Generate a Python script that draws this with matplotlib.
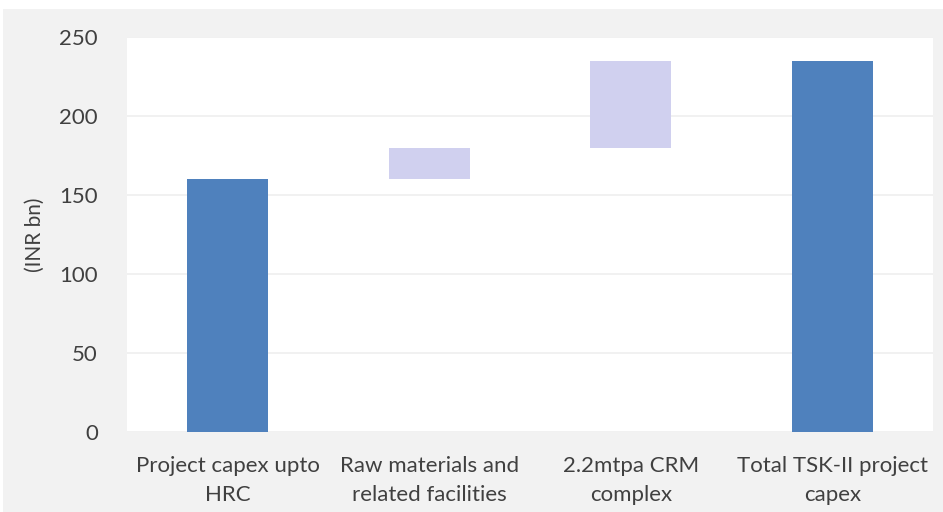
import numpy as np
import matplotlib.pyplot as plt
from matplotlib.patches import Rectangle

# capex build-up (INR bn)
categories = ['Project capex upto\nHRC', 'Raw materials and\nrelated facilities',
              '2.2mtpa CRM\ncomplex', 'Total TSK-II project\ncapex']
steps = [160, 20, 55]
total = sum(steps)
yticks = [0, 50, 100, 150, 200, 250]

heights = steps + [total]
bottoms = [0] + list(np.cumsum(steps)[:-1]) + [0]
colors = ['#4F81BD', '#D0D0EF', '#D0D0EF', '#4F81BD']

plt.rcParams['font.family'] = ['Lato', 'DejaVu Sans']
text_col = '#404040'

fig = plt.figure(figsize=(9.43, 5.12), dpi=100)
fig.patch.set_facecolor('white')
# grey chart panel below the white header strip
fig.patches.append(Rectangle((3 / 943, 0), 1, 1 - 9 / 512, transform=fig.transFigure,
                             facecolor='#F2F2F2', edgecolor='none', zorder=-5))

ax = fig.add_axes([127 / 943, 80 / 512, 806 / 943, 395 / 512])
ax.set_zorder(1)
ax.set_facecolor('white')

x = np.arange(len(categories))
ax.bar(x, heights, bottom=bottoms, width=0.40, color=colors, zorder=3)

ax.set_xlim(-0.5, len(categories) - 0.5)
ax.set_ylim(0, 250)
ax.set_yticks(yticks)
ax.yaxis.grid(True, color='#EFEFEF', linewidth=1.2, zorder=0)
ax.set_xticks(x)
ax.set_xticklabels(categories, fontsize=16, color=text_col, linespacing=1.6)
ax.tick_params(axis='y', labelsize=16, labelcolor=text_col, length=0, pad=21)
ax.tick_params(axis='x', length=0, pad=17)
for s in ax.spines.values():
    s.set_visible(False)

ax.set_ylabel('(INR bn)', fontsize=15, color=text_col, labelpad=10)

fig.savefig('out.png', dpi=100, facecolor=fig.get_facecolor())
